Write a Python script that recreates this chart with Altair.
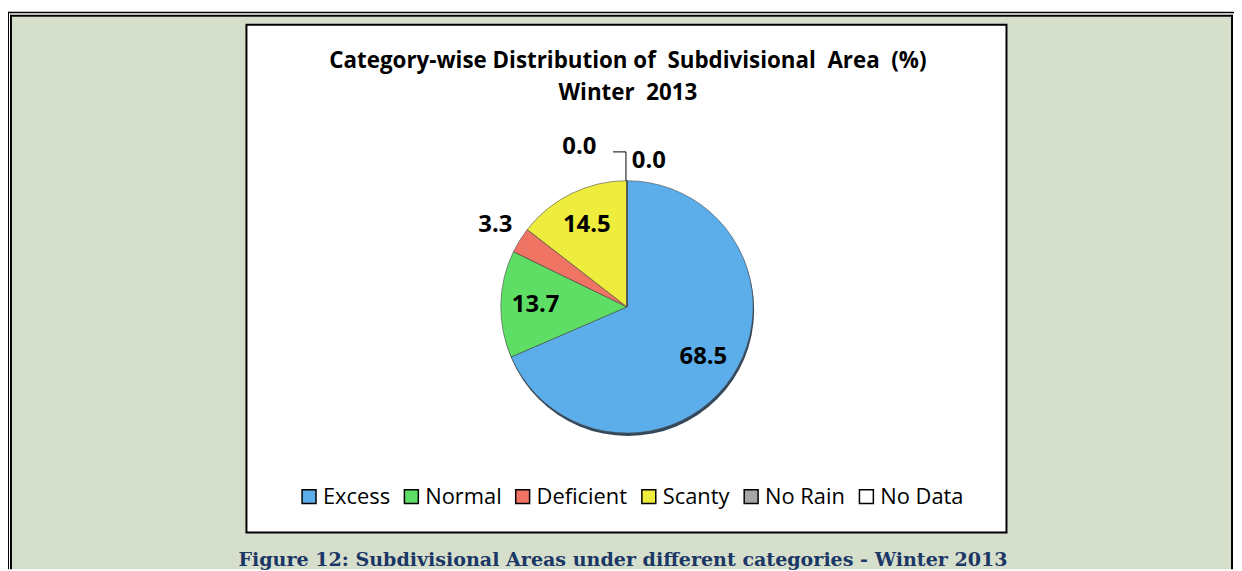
import altair as alt
import pandas as pd

categories = ["Excess", "Normal", "Deficient", "Scanty", "No Rain", "No Data"]
values = [68.5, 13.7, 3.3, 14.5, 0.0, 0.0]
labels = ["68.5", "13.7", "3.3", "14.5", "0.0", "0.0"]
colors = ["#5caeeb", "#5fde66", "#f07463", "#eeec3c", "#a6a6a6", "#ffffff"]
title_lines = ["Category-wise Distribution of\u00a0 Subdivisional\u00a0 Area\u00a0 (%)",
               "Winter\u00a0 2013"]
caption = "Figure 12: Subdivisional Areas under different categories - Winter 2013"

W, H = 1234, 563
CX, CY, R = 623, 299, 127

df = pd.DataFrame({"category": categories, "value": values, "label": labels,
                   "order": list(range(len(categories)))})
one = pd.DataFrame({"a": [0]})

theta_scale = alt.Scale(domain=[0, 100])
color_scale = alt.Scale(domain=categories, range=colors)


def stacked(chart):
    return (chart.transform_stack(stack="value", groupby=[], as_=["v0", "v1"],
                                  sort=[alt.SortField("order", order="ascending")])
            .transform_calculate(mid="(datum.v0 + datum.v1) / 2"))


# decorations
bg = alt.Chart(one).mark_rect(fill="#d6dfcc").encode(
    x=alt.value(4), x2=alt.value(1231), y=alt.value(7), y2=alt.value(H))
lines = []
lines.append(alt.Chart(one).mark_rule(color="black", strokeWidth=1.5).encode(
    x=alt.value(0), x2=alt.value(W), y=alt.value(2.75)))
lines.append(alt.Chart(one).mark_rule(color="black", strokeWidth=2).encode(
    x=alt.value(2), x2=alt.value(1233), y=alt.value(6)))
lines.append(alt.Chart(one).mark_rule(color="black", strokeWidth=1).encode(
    x=alt.value(0.5), y=alt.value(2), y2=alt.value(H)))
lines.append(alt.Chart(one).mark_rule(color="black", strokeWidth=2).encode(
    x=alt.value(3), y=alt.value(5), y2=alt.value(H)))
lines.append(alt.Chart(one).mark_rule(color="black", strokeWidth=2).encode(
    x=alt.value(1232), y=alt.value(5), y2=alt.value(H)))
box = alt.Chart(one).mark_rect(fill="white", stroke="black", strokeWidth=2).encode(
    x=alt.value(240), x2=alt.value(1005), y=alt.value(15), y2=alt.value(526))

titles = []
for i, t in enumerate(title_lines):
    titles.append(alt.Chart(one).mark_text(text=t, font="Open Sans", fontWeight="bold",
                                           fontSize=22.5, color="black", align="center",
                                           baseline="middle").encode(
        x=alt.value(624), y=alt.value(52 + 32 * i)))

cap = alt.Chart(one).mark_text(text=caption, font="DejaVu Serif", fontWeight="bold",
                               fontSize=19.2, color="#1b3766", align="center",
                               baseline="alphabetic").encode(
    x=alt.value(619), y=alt.value(560))

shadow = alt.Chart(one).mark_arc(radius=R, theta=0, theta2=6.2832, fill="#34485c").encode(
    x=alt.value(CX + 1), y=alt.value(CY + 3))

pie = stacked(alt.Chart(df)).mark_arc(radius=R, stroke="#4a4a4a", strokeWidth=0.6).encode(
    theta=alt.Theta("v0:Q", scale=theta_scale),
    theta2="v1:Q",
    color=alt.Color("category:N", scale=color_scale,
                    legend=alt.Legend(orient="none", legendX=292, legendY=479,
                                      direction="horizontal", title=None,
                                      symbolType="square", symbolSize=196,
                                      symbolStrokeColor="black", symbolStrokeWidth=1.5,
                                      labelFont="Open Sans", labelFontSize=22,
                                      labelColor="black", labelOffset=3,
                                      columnPadding=10, padding=0)),
    x=alt.value(CX), y=alt.value(CY),
)

txt_style = dict(font="Open Sans", fontWeight="bold", fontSize=24, color="black",
                 align="center", baseline="middle")

inside = stacked(alt.Chart(df)).transform_filter("datum.value >= 5").mark_text(
    radius=92, **txt_style).encode(
    theta=alt.Theta("mid:Q", scale=theta_scale), text="label:N",
    x=alt.value(CX), y=alt.value(CY))
outside = stacked(alt.Chart(df)).transform_filter("datum.value > 0 && datum.value < 5").mark_text(
    radius=156, **txt_style).encode(
    theta=alt.Theta("mid:Q", scale=theta_scale), text="label:N",
    x=alt.value(CX), y=alt.value(CY))
zero_rain = stacked(alt.Chart(df)).transform_filter("datum.category == 'No Rain'").mark_text(
    radius=161, dx=-48, **txt_style).encode(
    theta=alt.Theta("mid:Q", scale=theta_scale), text="label:N",
    x=alt.value(CX), y=alt.value(CY))
zero_data = stacked(alt.Chart(df)).transform_filter("datum.category == 'No Data'").mark_text(
    radius=147, dx=22, **txt_style).encode(
    theta=alt.Theta("mid:Q", scale=theta_scale), text="label:N",
    x=alt.value(CX), y=alt.value(CY))

leader_h = alt.Chart(one).mark_rule(color="black", strokeWidth=1).encode(
    x=alt.value(609), x2=alt.value(622), y=alt.value(143))
leader_v = alt.Chart(one).mark_rule(color="black", strokeWidth=1).encode(
    x=alt.value(622), y=alt.value(143), y2=alt.value(CY - R))

chart = alt.layer(
    bg, *lines, box, *titles, cap, shadow, pie, inside, outside, zero_rain, zero_data,
    leader_h, leader_v
).properties(
    width=W, height=H, padding=0, autosize="none", background="white"
).configure_view(stroke=None)

chart.save("out.html", embed_options={"renderer": "svg", "actions": False})
